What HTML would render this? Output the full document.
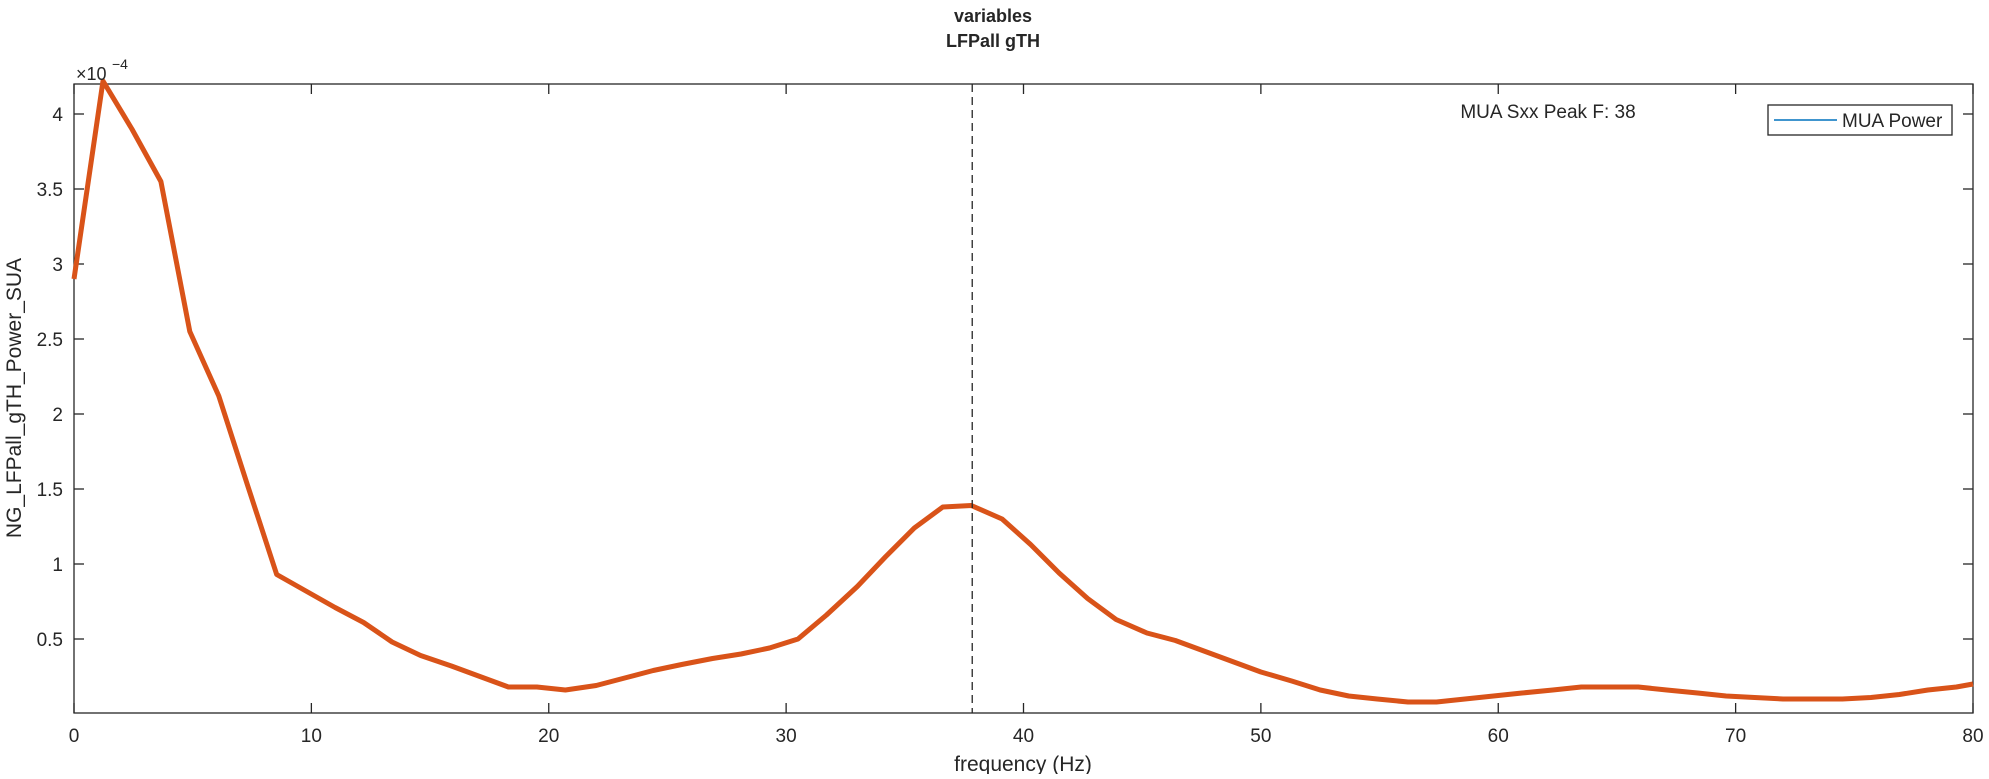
<!DOCTYPE html>
<html><head><meta charset="utf-8"><style>
body{margin:0;background:#fff;}
svg text{font-family:"Liberation Sans",Helvetica,sans-serif;fill:#262626;}
</style></head><body>
<svg width="1989" height="774" xmlns="http://www.w3.org/2000/svg">
<g id="root"></g>
</svg>
<script>
const freqs=[0,1.22,2.44,3.66,4.88,6.1,7.3,8.54,9.77,11,12.2,13.4,14.6,15.9,17.1,18.3,19.5,20.7,22,23.2,24.4,25.6,26.9,28.1,29.3,30.5,31.7,33,34.2,35.4,36.6,37.8,39.1,40.3,41.5,42.7,43.9,45.2,46.4,47.6,48.8,50,51.3,52.5,53.7,54.9,56.2,57.4,58.6,59.8,61,62.3,63.5,64.7,65.9,67.1,68.4,69.6,70.8,72,73.2,74.5,75.7,76.9,78.1,79.3,80];
const power=[2.9,4.22,3.9,3.55,2.55,2.12,1.53,0.93,0.82,0.71,0.61,0.48,0.39,0.32,0.25,0.18,0.18,0.16,0.19,0.24,0.29,0.33,0.37,0.40,0.44,0.50,0.66,0.85,1.05,1.24,1.38,1.39,1.30,1.13,0.94,0.77,0.63,0.54,0.49,0.42,0.35,0.28,0.22,0.16,0.12,0.10,0.08,0.08,0.10,0.12,0.14,0.16,0.18,0.18,0.18,0.16,0.14,0.12,0.11,0.10,0.10,0.10,0.11,0.13,0.16,0.18,0.20];
const xTicks=[0,10,20,30,40,50,60,70,80];
const yTicks=[0.5,1,1.5,2,2.5,3,3.5,4];
const peakF=37.84;
const L=74,R=1973,T=84,B=713;
const X=v=>L+(v-0)/80*(R-L);
const Y=v=>714-v*150;
const NS="http://www.w3.org/2000/svg";
const root=document.getElementById('root');
function mk(tag,attrs,txt){const e=document.createElementNS(NS,tag);for(const k in attrs)e.setAttribute(k,attrs[k]);if(txt!==undefined)e.textContent=txt;root.appendChild(e);return e;}
let e;
e=mk('rect',{x:L,y:T,width:R-L,height:B-T,fill:'#fff',stroke:'#262626','stroke-width':1.3});


xTicks.forEach(t=>{
 e=mk('line',{x1:X(t),x2:X(t),y1:B,y2:B-10,stroke:'#262626','stroke-width':1.3});
 
 
 e=mk('line',{x1:X(t),x2:X(t),y1:T,y2:T+10,stroke:'#262626','stroke-width':1.3});
 
 
 e=mk('text',{x:X(t),y:742,'text-anchor':'middle','font-size':19},String(t));
 
 
});
yTicks.forEach(t=>{
 e=mk('line',{x1:L,x2:L+10,y1:Y(t),y2:Y(t),stroke:'#262626','stroke-width':1.3});
 
 
 e=mk('line',{x1:R,x2:R-10,y1:Y(t),y2:Y(t),stroke:'#262626','stroke-width':1.3});
 
 
 e=mk('text',{x:L-11,y:Y(t)+7,'text-anchor':'end','font-size':19},String(t));
 
 
});
e=mk('path',{d:power.map((p,i)=>(i?'L':'M')+X(freqs[i]).toFixed(1)+','+Y(p).toFixed(1)).join(''),fill:'none',stroke:'#D95319','stroke-width':5,'stroke-linejoin':'round'});


e=mk('line',{x1:X(peakF),x2:X(peakF),y1:T,y2:B,stroke:'#262626','stroke-width':1.3,'stroke-dasharray':'8,5'});


e=mk('text',{x:1548,y:118,'text-anchor':'middle','font-size':19},'MUA Sxx Peak F: 38');


e=mk('rect',{x:1768,y:105,width:184,height:30,fill:'#fff',stroke:'#262626','stroke-width':1.3});


e=mk('line',{x1:1774,x2:1837,y1:120,y2:120,stroke:'#0072BD','stroke-width':1.5});


e=mk('text',{x:1842,y:127,'font-size':19},'MUA Power');


e=mk('text',{x:76,y:80,'font-size':18},'×10');


e=mk('text',{x:112,y:69,'font-size':14},'−4');


e=mk('text',{x:993,y:22,'text-anchor':'middle','font-size':18,'font-weight':'bold'},'variables');


e=mk('text',{x:993,y:47,'text-anchor':'middle','font-size':18,'font-weight':'bold'},'LFPall gTH');


e=mk('text',{x:1023,y:771,'text-anchor':'middle','font-size':21},'frequency (Hz)');


e=mk('text',{x:0,y:0,'text-anchor':'middle','font-size':21,transform:'translate(21,398) rotate(-90)'},'NG_LFPall_gTH_Power_SUA');


</script>
</body></html>
